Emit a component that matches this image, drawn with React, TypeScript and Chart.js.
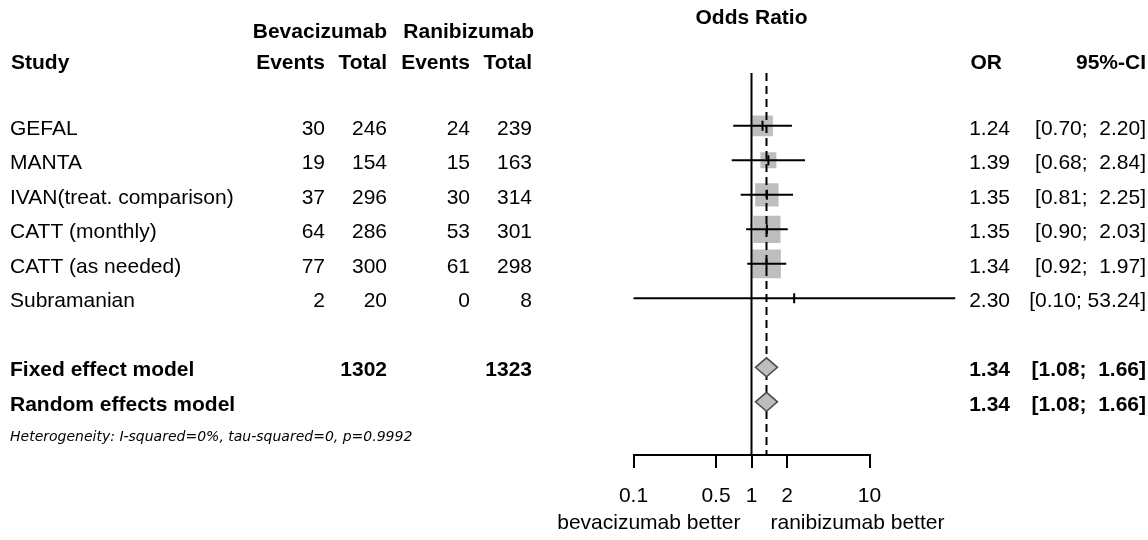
import { useEffect, useRef } from "react";
import { Chart, registerables } from "chart.js";

Chart.register(...registerables);

// ---- data ----
const studies = [
  "GEFAL",
  "MANTA",
  "IVAN(treat. comparison)",
  "CATT (monthly)",
  "CATT (as needed)",
  "Subramanian",
];
const bevEvents = [30, 19, 37, 64, 77, 2];
const bevTotal = [246, 154, 296, 286, 300, 20];
const ranEvents = [24, 15, 30, 53, 61, 0];
const ranTotal = [239, 163, 314, 301, 298, 8];
const oddsRatio = [1.24, 1.39, 1.35, 1.35, 1.34, 2.3];
const ciLower = [0.7, 0.68, 0.81, 0.9, 0.92, 0.1];
const ciUpper = [2.2, 2.84, 2.25, 2.03, 1.97, 53.24];
const weights = [15.3, 9.1, 19.4, 26.4, 29.5, 0.3];

const summaryLabels = ["Fixed effect model", "Random effects model"];
const summaryOR = [1.34, 1.34];
const summaryLower = [1.08, 1.08];
const summaryUpper = [1.66, 1.66];
const summaryBevTotal = ["1302", ""];
const summaryRanTotal = ["1323", ""];

const tickValues = [0.1, 0.5, 1, 2, 10];
const tickLabels = ["0.1", "0.5", "1", "2", "10"];
const heterogeneityText = "Heterogeneity: I-squared=0%, tau-squared=0, p=0.9992";

// ---- layout ----
const FONT = "'Liberation Sans', Arial, sans-serif";
const studyRows = studies.map((_, i) => i);
const summaryRows = [7, 8];
const hetRow = 9;
const TEXT_DY = 3;

const fmt = (v: number) => v.toFixed(2);
const fmtCI = (lo: number, hi: number) =>
  `[${fmt(lo)}; ${fmt(hi).padStart(5, " ")}]`;

const forestPlugin = {
  id: "forest",
  beforeDatasetDraw(chart: any, args: any) {
    if (args.index !== 1) return;
    const { ctx, chartArea } = chart;
    const x = chart.scales.x;
    const y = chart.scales.y;
    ctx.save();
    ctx.strokeStyle = "#000";
    ctx.lineWidth = 2;
    // line of no effect
    const x1 = x.getPixelForValue(1);
    ctx.beginPath();
    ctx.moveTo(x1, chartArea.top);
    ctx.lineTo(x1, chartArea.bottom);
    ctx.stroke();
    // summary dashed line
    const xs = x.getPixelForValue(summaryOR[0]);
    ctx.setLineDash([8, 5]);
    ctx.beginPath();
    ctx.moveTo(xs, chartArea.top);
    ctx.lineTo(xs, chartArea.bottom);
    ctx.stroke();
    ctx.setLineDash([]);
    // confidence intervals
    studyRows.forEach((r, i) => {
      const py = y.getPixelForValue(r);
      ctx.beginPath();
      ctx.moveTo(x.getPixelForValue(ciLower[i]), py);
      ctx.lineTo(x.getPixelForValue(ciUpper[i]), py);
      ctx.stroke();
    });
    ctx.restore();
  },
  afterDatasetsDraw(chart: any) {
    const { ctx } = chart;
    const x = chart.scales.x;
    const y = chart.scales.y;
    ctx.save();
    summaryRows.forEach((r, i) => {
      const py = y.getPixelForValue(r);
      const h = 9.5;
      ctx.beginPath();
      ctx.moveTo(x.getPixelForValue(summaryLower[i]), py);
      ctx.lineTo(x.getPixelForValue(summaryOR[i]), py - h);
      ctx.lineTo(x.getPixelForValue(summaryUpper[i]), py);
      ctx.lineTo(x.getPixelForValue(summaryOR[i]), py + h);
      ctx.closePath();
      ctx.fillStyle = "#bdbdbd";
      ctx.fill();
      ctx.strokeStyle = "#4a4a4a";
      ctx.lineWidth = 1.5;
      ctx.stroke();
    });
    ctx.restore();
  },
  afterDraw(chart: any) {
    const { ctx } = chart;
    const x = chart.scales.x;
    const y = chart.scales.y;
    const x1 = x.getPixelForValue(1);
    const bold = `bold 21px ${FONT}`;
    const reg = `21px ${FONT}`;
    ctx.save();
    ctx.fillStyle = "#000";
    ctx.textBaseline = "middle";
    const text = (s: string, px: number, py: number, align: CanvasTextAlign, font: string) => {
      ctx.font = font;
      ctx.textAlign = align;
      ctx.fillText(s, px, py);
    };
    // headers
    text("Odds Ratio", x1, 18, "center", bold);
    text("Bevacizumab", 387, 32, "right", bold);
    text("Ranibizumab", 534, 32, "right", bold);
    text("Study", 11, 63.5, "left", bold);
    text("Events", 325, 63.5, "right", bold);
    text("Total", 387, 63.5, "right", bold);
    text("Events", 470, 63.5, "right", bold);
    text("Total", 532, 63.5, "right", bold);
    text("OR", 1002, 63.5, "right", bold);
    text("95%-CI", 1146, 63.5, "right", bold);
    // study rows
    studyRows.forEach((r, i) => {
      const py = y.getPixelForValue(r) + TEXT_DY;
      text(studies[i], 10, py, "left", reg);
      text(String(bevEvents[i]), 325, py, "right", reg);
      text(String(bevTotal[i]), 387, py, "right", reg);
      text(String(ranEvents[i]), 470, py, "right", reg);
      text(String(ranTotal[i]), 532, py, "right", reg);
      text(fmt(oddsRatio[i]), 1010, py, "right", reg);
      text(fmtCI(ciLower[i], ciUpper[i]), 1146, py, "right", reg);
    });
    // summary rows
    summaryRows.forEach((r, i) => {
      const py = y.getPixelForValue(r) + TEXT_DY;
      text(summaryLabels[i], 10, py, "left", bold);
      text(summaryBevTotal[i], 387, py, "right", bold);
      text(summaryRanTotal[i], 532, py, "right", bold);
      text(fmt(summaryOR[i]), 1010, py, "right", bold);
      text(fmtCI(summaryLower[i], summaryUpper[i]), 1146, py, "right", bold);
    });
    // heterogeneity
    text(heterogeneityText, 10, y.getPixelForValue(hetRow) + 1, "left", `italic 14px 'DejaVu Sans', sans-serif`);
    // direction labels
    text("bevacizumab better", x1 - 11, 523, "right", reg);
    text("ranibizumab better", x1 + 19, 523, "left", reg);
    ctx.restore();
  },
};

export default function App() {
  const canvasRef = useRef<HTMLCanvasElement | null>(null);

  useEffect(() => {
    const canvas = canvasRef.current;
    if (!canvas) return;
    const boxScale = 5.3;
    const chart = new Chart(canvas, {
      type: "scatter",
      data: {
        datasets: [
          {
            label: "weight boxes",
            data: studyRows.map((r, i) => ({ x: oddsRatio[i], y: r })),
            pointStyle: "rect",
            pointRadius: weights.map((w) => (boxScale * Math.sqrt(w)) / Math.SQRT2),
            backgroundColor: "#bebebe",
            borderWidth: 0,
            order: 2,
          },
          {
            label: "point estimates",
            data: studyRows.map((r, i) => ({ x: oddsRatio[i], y: r })),
            pointStyle: "line",
            rotation: 90,
            pointRadius: 5,
            borderColor: "#000",
            borderWidth: 2,
            order: 1,
          },
        ],
      },
      options: {
        animation: false,
        responsive: false,
        events: [],
        layout: { padding: { left: 633.5, right: 278.5, top: 73, bottom: 0 } },
        plugins: { legend: { display: false }, tooltip: { enabled: false } },
        scales: {
          x: {
            type: "logarithmic",
            min: 0.1,
            max: 10,
            position: "bottom",
            afterBuildTicks: (s: any) => {
              s.ticks = tickValues.map((v) => ({ value: v }));
            },
            afterFit: (s: any) => {
              s.height = 85;
            },
            grid: {
              display: true,
              drawOnChartArea: false,
              drawTicks: true,
              tickLength: 13,
              color: "#000",
              lineWidth: 2,
            },
            border: { display: true, color: "#000", width: 2 },
            ticks: {
              autoSkip: false,
              maxRotation: 0,
              color: "#000",
              padding: 16,
              font: { family: FONT, size: 21 },
              callback: (_v: any, i: number) => tickLabels[i],
            },
          },
          y: {
            type: "linear",
            display: false,
            reverse: true,
            min: -1.53,
            max: 9.54,
          },
        },
      },
      plugins: [forestPlugin],
    } as any);
    return () => chart.destroy();
  }, []);

  return (
    <div style={{ position: "absolute", left: 0, top: 0, width: 1148, height: 540, background: "#fff" }}>
      <canvas ref={canvasRef} width={1148} height={540} style={{ display: "block" }} />
    </div>
  );
}
